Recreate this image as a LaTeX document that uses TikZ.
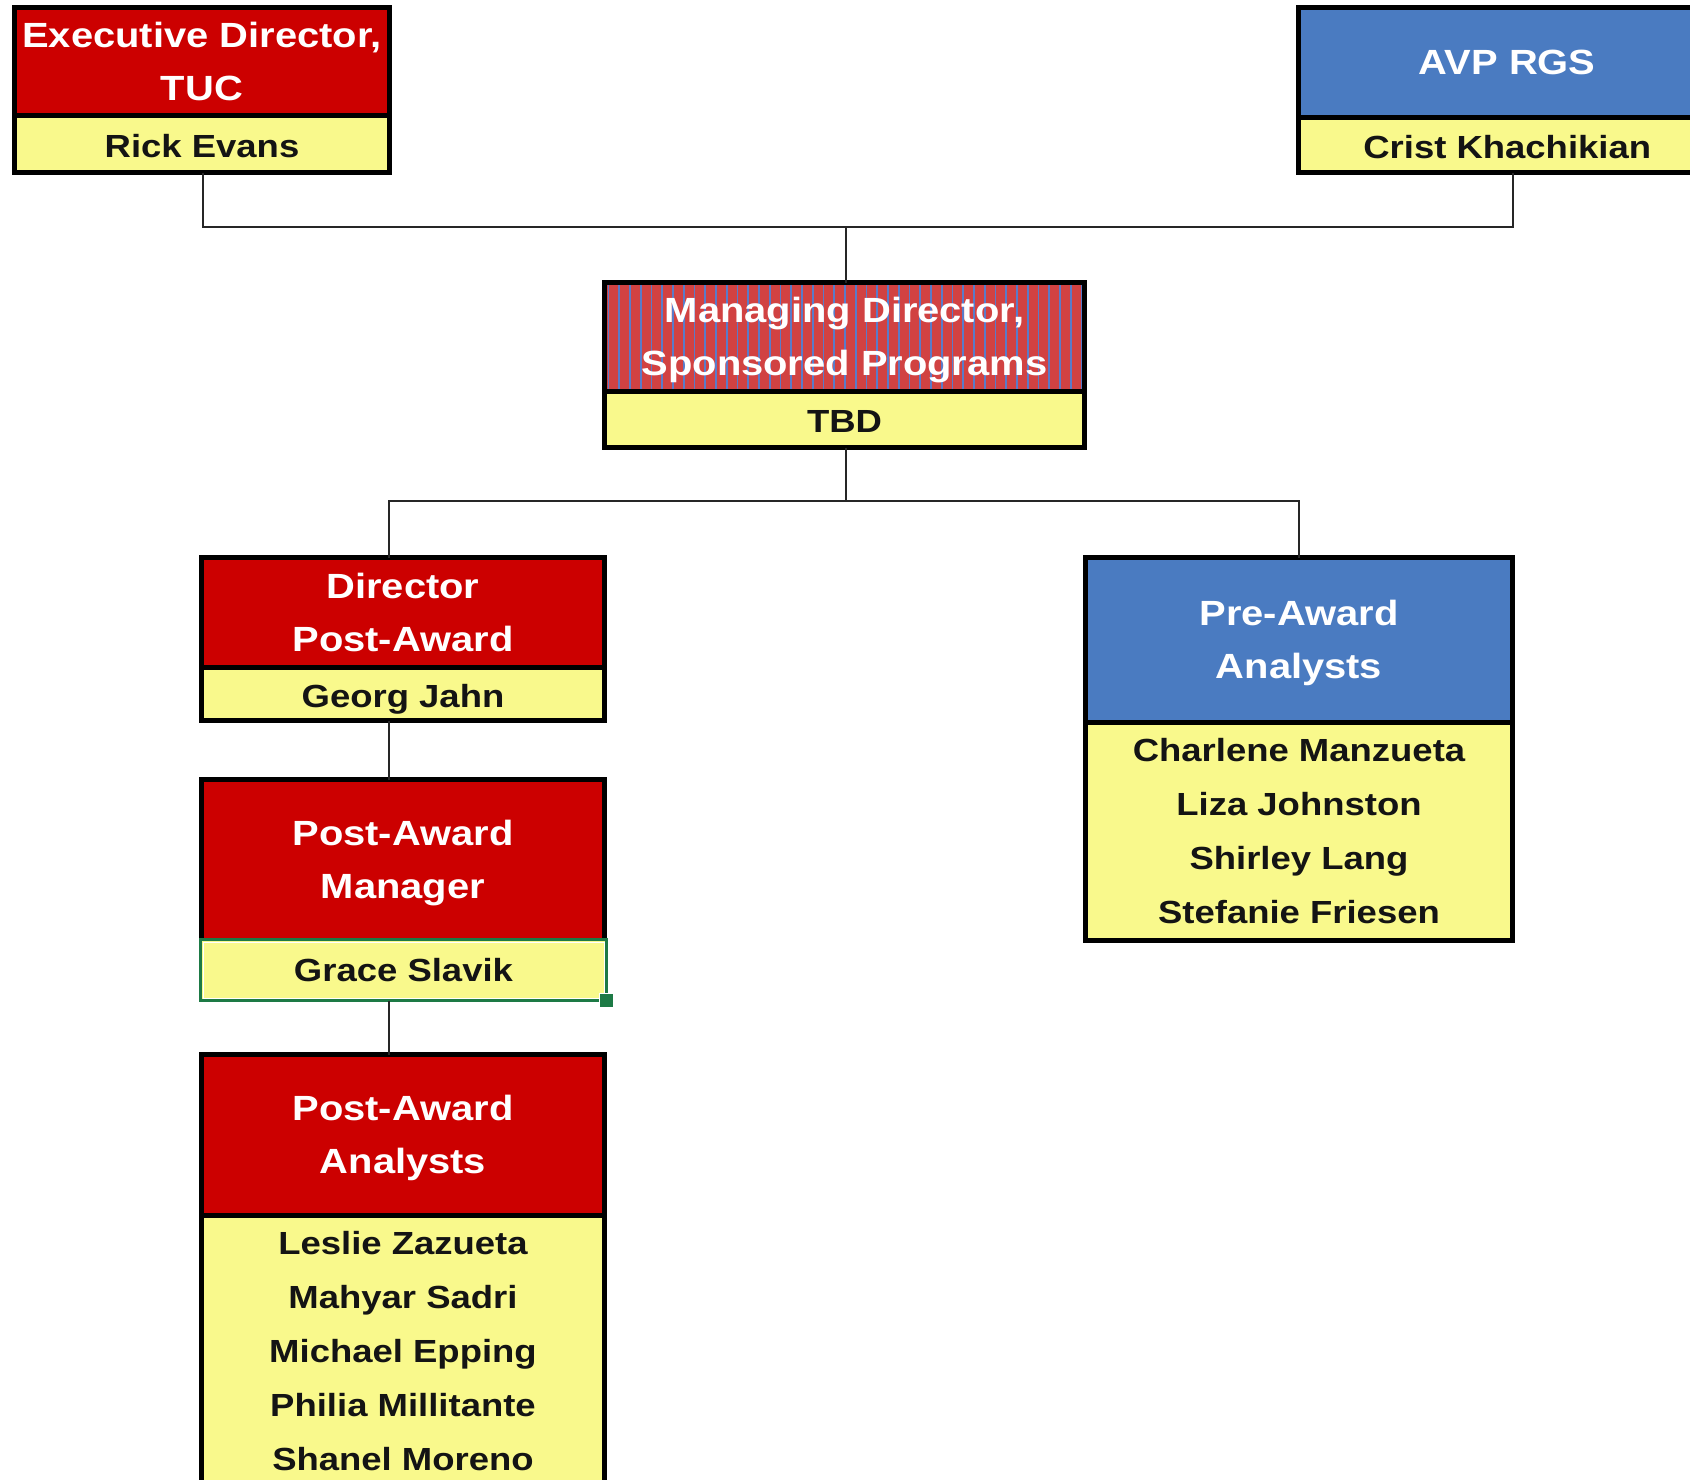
\documentclass[tikz,border=0pt]{standalone}
\usepackage{fontspec}
\setmainfont{Liberation Sans}[FakeStretch=1.14]
\definecolor{hred}{HTML}{CC0000}
\definecolor{hblue}{HTML}{4A7BC1}
\definecolor{cellyellow}{HTML}{F9F98C}
\definecolor{stripered}{HTML}{D14242}
\definecolor{stripeblue}{HTML}{5A7BC9}
\definecolor{selgreen}{HTML}{1D7A45}
\tikzset{
  box/.style={rectangle, draw=black, line width=5pt, inner sep=0pt, outer sep=0pt, anchor=north west, align=center, text depth=0pt},
  head/.style={box, fill=hred, text=white, font=\fontsize{35}{53}\selectfont\bfseries},
  bluehead/.style={head, fill=hblue},
  cell/.style={box, fill=cellyellow, text=black!92, font=\fontsize{32}{54}\selectfont\bfseries},
  onecell/.style={cell, text height=27pt},
  link/.style={line width=2pt, draw=black!85},
}
\begin{document}
\begin{tikzpicture}[x=1pt,y=-1pt]
\useasboundingbox (0,0) rectangle (1690,1480);
\clip (0,0) rectangle (1690,1480);
\fill[white] (0,0) rectangle (1690,1480);

% Executive Director
\node[head, minimum width=375, minimum height=107.5] (exech) at (14.5,7.5) {Executive Director,\\TUC};
\node[onecell, minimum width=375, minimum height=57.5] (execb) at (14.5,115) {Rick Evans};

% AVP RGS
\node[bluehead, minimum width=417.5, minimum height=109.5] (avph) at (1298.5,7.5) {AVP RGS};
\node[onecell, minimum width=417.5, minimum height=55.5] (avpb) at (1298.5,117) {Crist Khachikian};

% Managing Director
\node[head, fill=stripered, minimum width=480, minimum height=108.5,
  path picture={\foreach \k in {0,...,45} \fill[stripeblue] ([xshift=\k*10.75pt+3pt]path picture bounding box.north west) rectangle ++(1.8pt,-200pt);}]
  (mdh) at (604.5,282.5) {Managing Director,\\Sponsored Programs};
\node[onecell, minimum width=480, minimum height=56.5] (mdb) at (604.5,391) {TBD};

% Director Post-Award
\node[head, minimum width=403, minimum height=109.5] (dirh) at (201.5,557.5) {Director\\Post-Award};
\node[onecell, minimum width=403, minimum height=53.5] (dirb) at (201.5,667) {Georg Jahn};

% Post-Award Manager
\node[head, minimum width=403, minimum height=160.5] (mgrh) at (201.5,779.5) {Post-Award\\Manager};
\node[onecell, text height=23pt, draw=selgreen, line width=3pt, minimum width=406, minimum height=61] (mgrb) at (200.5,939.5) {Grace Slavik};
\draw[white, line width=0.8pt] ([shift={(2.4pt,-2.4pt)}]mgrb.north west) rectangle ([shift={(-2.4pt,2.4pt)}]mgrb.south east);
\node[fill=selgreen, draw=white, line width=0.8pt, minimum size=14, inner sep=0pt, anchor=center] (handle) at (mgrb.south east) {};

% Post-Award Analysts
\node[head, minimum width=403, minimum height=160.5] (anah) at (201.5,1054.5) {Post-Award\\Analysts};
\node[cell, minimum width=403, minimum height=271] (anab) at (201.5,1215) {Leslie Zazueta\\Mahyar Sadri\\Michael Epping\\Philia Millitante\\Shanel Moreno};

% Pre-Award Analysts
\node[bluehead, minimum width=427, minimum height=164.5] (preh) at (1085.5,557.5) {Pre-Award\\Analysts};
\node[cell, minimum width=427, minimum height=218.5] (preb) at (1085.5,722) {Charlene Manzueta\\Liza Johnston\\Shirley Lang\\Stefanie Friesen};

% connectors
\coordinate (j1) at (846,227);
\coordinate (j2) at (846,501);
\draw[link] ([xshift=1pt]execb.south) |- (j1) -| ([xshift=6pt]avpb.south);
\draw[link] (j1) -- ([xshift=1.5pt]mdh.north);
\draw[link] ([xshift=1.5pt]mdb.south) -- (j2);
\draw[link] ([xshift=-14pt]dirh.north) |- (j2) -| (preh.north);
\draw[link] ([xshift=-14pt]dirb.south) -- ([xshift=-14pt]mgrh.north);
\draw[link] ([xshift=-14.5pt]mgrb.south) -- ([xshift=-14pt]anah.north);
\end{tikzpicture}
\end{document}
